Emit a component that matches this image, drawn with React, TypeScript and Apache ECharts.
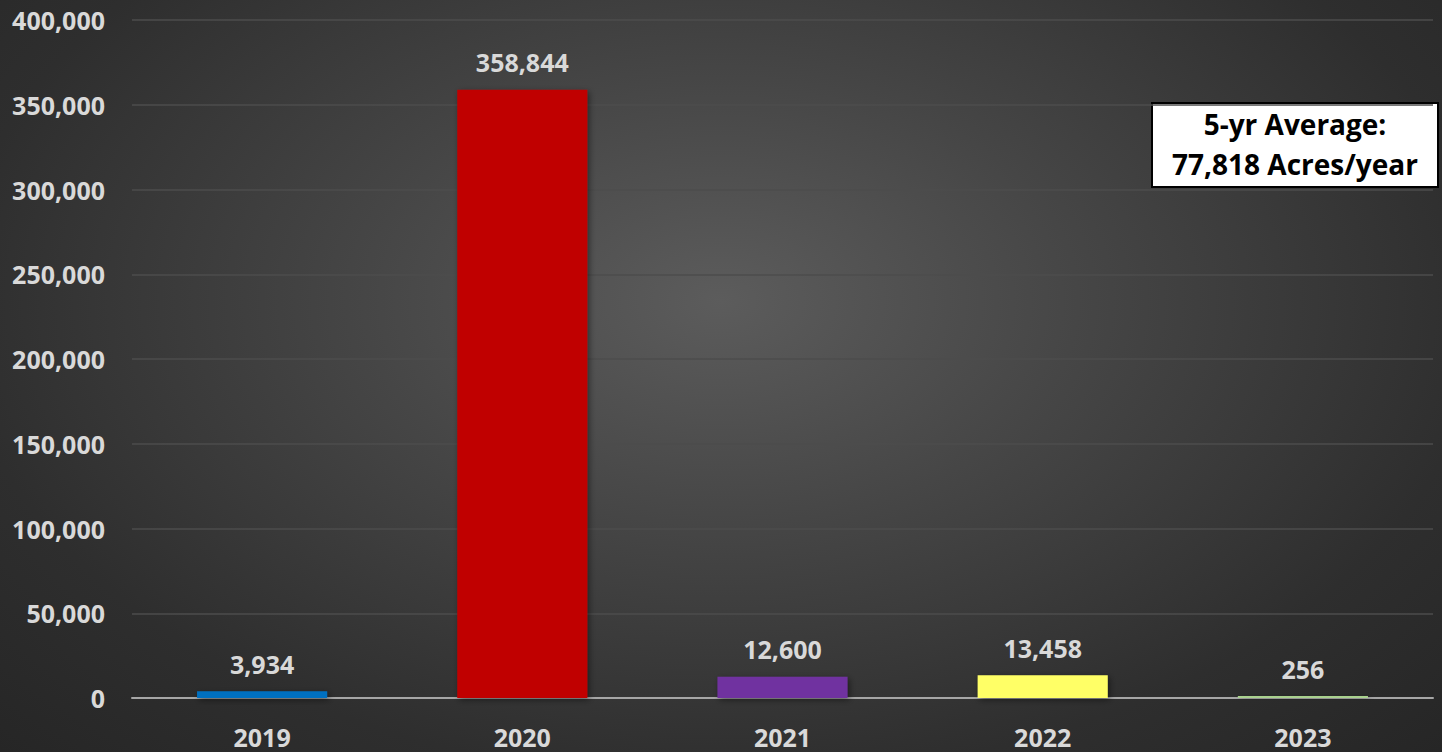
import React, { useEffect, useRef } from "react";
import * as echarts from "echarts";

const years = ["2019", "2020", "2021", "2022", "2023"];
const acres = [3934, 358844, 12600, 13458, 256];
const barColors = ["#0070C0", "#C00000", "#7030A0", "#FFFF66", "#A9D18E"];
const averageLines = ["5-yr Average:", "77,818 Acres/year"];

const FONT = "'Open Sans', 'Noto Sans', sans-serif";

export default function App() {
  const ref = useRef<HTMLDivElement>(null);
  useEffect(() => {
    document.body.style.margin = "0";
    const chart = echarts.init(ref.current!, null, { renderer: "svg" });
    chart.setOption({
      animation: false,
      backgroundColor: "transparent",
      grid: { left: 132, right: 9, top: 20, bottom: 54, containLabel: false },
      xAxis: {
        type: "category",
        data: years,
        axisLine: { show: true, lineStyle: { color: "#A6A6A6", width: 2 } },
        axisTick: { show: false },
        axisLabel: {
          color: "#D9D9D9",
          fontFamily: FONT,
          fontWeight: "bold",
          fontSize: 25,
          margin: 26,
        },
      },
      yAxis: {
        type: "value",
        min: 0,
        max: 400000,
        interval: 50000,
        axisLine: { show: false },
        axisTick: { show: false },
        splitLine: { lineStyle: { color: "#4D4D4D", width: 1.5 } },
        axisLabel: {
          color: "#D9D9D9",
          fontFamily: FONT,
          fontWeight: "bold",
          fontSize: 25,
          margin: 27,
          formatter: (v: number) => v.toLocaleString("en-US"),
        },
      },
      series: [
        {
          type: "bar",
          barWidth: "50%",
          barMinHeight: 2,
          data: acres.map((v, i) => ({
            value: v,
            itemStyle: {
              color: barColors[i],
              shadowColor: "rgba(0,0,0,0.45)",
              shadowBlur: 6,
              shadowOffsetX: 2,
              shadowOffsetY: 2,
            },
          })),
          label: {
            show: true,
            position: "top",
            distance: 15,
            color: "#D9D9D9",
            fontFamily: FONT,
            fontWeight: "bold",
            fontSize: 25,
            formatter: (p: any) => Number(p.value).toLocaleString("en-US"),
          },
        },
      ],
      graphic: [
        {
          type: "group",
          left: 1151,
          top: 102,
          children: [
            {
              type: "rect",
              shape: { x: 0, y: 0, width: 286, height: 84 },
              style: { fill: "#FFFFFF", stroke: "#000000", lineWidth: 2 },
            },
            {
              type: "text",
              x: 143,
              y: 21,
              style: {
                text: averageLines[0],
                fill: "#000000",
                font: `bold 28px ${FONT}`,
                align: "center",
                verticalAlign: "middle",
              },
            },
            {
              type: "text",
              x: 143,
              y: 61,
              style: {
                text: averageLines[1],
                fill: "#000000",
                font: `bold 28px ${FONT}`,
                align: "center",
                verticalAlign: "middle",
              },
            },
          ],
        },
      ],
    });
    return () => chart.dispose();
  }, []);
  return (
    <div
      ref={ref}
      style={{
        position: "absolute",
        left: 0,
        top: 0,
        width: 1442,
        height: 752,
        background:
          "radial-gradient(ellipse at 50% 40%, #5C5C5C 0%, #464646 35%, #2E2E2E 75%, #262626 100%)",
      }}
    />
  );
}
